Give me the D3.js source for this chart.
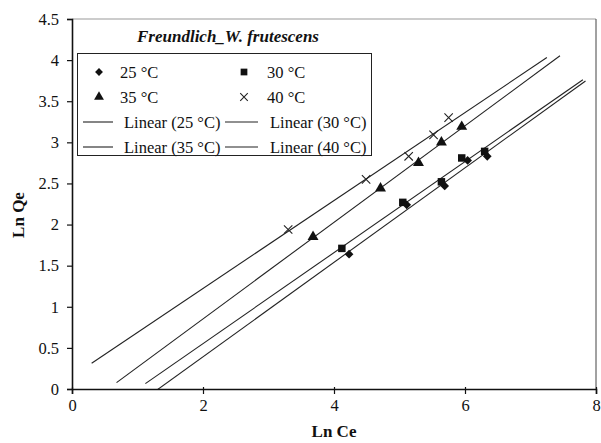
<!DOCTYPE html>
<html>
<head>
<meta charset="utf-8">
<script src="https://cdn.jsdelivr.net/npm/d3@7"></script>
<style>
  html, body { margin: 0; padding: 0; background: #fff; }
  svg { display: block; }
  text { font-family: "Liberation Serif", "Times New Roman", serif; fill: #111; }
</style>
</head>
<body>
<svg id="chart" width="601" height="443"></svg>
<script>
// Freundlich isotherm data: ln Ce vs ln Qe at four temperatures
const seriesNames = ["25 °C", "30 °C", "35 °C", "40 °C"];
const lnCe25 = [4.23, 5.11, 5.69, 6.04, 6.34];
const lnQe25 = [1.64, 2.24, 2.47, 2.78, 2.83];
const lnCe30 = [4.12, 5.05, 5.64, 5.95, 6.30];
const lnQe30 = [1.71, 2.27, 2.52, 2.81, 2.89];
const lnCe35 = [3.68, 4.71, 5.29, 5.64, 5.95];
const lnQe35 = [1.85, 2.44, 2.75, 3.00, 3.19];
const lnCe40 = [3.30, 4.49, 5.14, 5.52, 5.75];
const lnQe40 = [1.94, 2.55, 2.83, 3.09, 3.30];
const xTicks = [0, 2, 4, 6, 8];
const yTicks = [0, 0.5, 1, 1.5, 2, 2.5, 3, 3.5, 4, 4.5];
// trendline forecast extents (backward / forward, in ln Ce units)
const forecastBack = 3;
const forecastForward = 1.5;

const xs = [lnCe25, lnCe30, lnCe35, lnCe40];
const ys = [lnQe25, lnQe30, lnQe35, lnQe40];

const svg = d3.select("#chart");
const margin = { left: 72, right: 5, top: 19, bottom: 54 };
const W = 601, H = 443;
const x = d3.scaleLinear().domain([0, 8]).range([margin.left, W - margin.right]);
const y = d3.scaleLinear().domain([0, 4.5]).range([H - margin.bottom, margin.top]);
const FS = 16.5;

// plot frame (top/right)
svg.append("line").attr("x1", x(0)).attr("x2", x(8)).attr("y1", y(4.5)).attr("y2", y(4.5))
  .attr("stroke", "#999").attr("stroke-width", 1);
svg.append("line").attr("x1", x(8)).attr("x2", x(8)).attr("y1", y(4.5)).attr("y2", y(0))
  .attr("stroke", "#444").attr("stroke-width", 1);

// clip region for the trendlines
svg.append("clipPath").attr("id", "plotClip").append("rect")
  .attr("x", x(0)).attr("y", y(4.5)).attr("width", x(8) - x(0)).attr("height", y(0) - y(4.5));

// least-squares trendlines
function fit(xv, yv) {
  const mx = d3.mean(xv), my = d3.mean(yv);
  let sxy = 0, sxx = 0;
  xv.forEach((v, i) => { sxy += (v - mx) * (yv[i] - my); sxx += (v - mx) * (v - mx); });
  const b = sxy / sxx;
  return { b, a: my - b * mx };
}
const lineGen = d3.line().x(d => x(d[0])).y(d => y(d[1]));
const gLines = svg.append("g").attr("clip-path", "url(#plotClip)");
xs.forEach((xv, i) => {
  const f = fit(xv, ys[i]);
  const x0 = d3.min(xv) - forecastBack, x1 = d3.max(xv) + forecastForward;
  gLines.append("path")
    .attr("d", lineGen([[x0, f.a + f.b * x0], [x1, f.a + f.b * x1]]))
    .attr("fill", "none").attr("stroke", "#222").attr("stroke-width", 1.1);
});

// markers: diamond, square, triangle, x-cross
function drawMarker(g, i, cx, cy, scale) {
  const s = scale || 1;
  if (i === 3) {
    const r = 4.2 * s;
    g.append("path")
      .attr("d", `M${cx - r},${cy - r}L${cx + r},${cy + r}M${cx - r},${cy + r}L${cx + r},${cy - r}`)
      .attr("stroke", "#222").attr("stroke-width", 1.1).attr("fill", "none");
  } else if (i === 0) {
    g.append("path")
      .attr("d", d3.symbol().type(d3.symbolSquare).size(38 * s * s)())
      .attr("transform", `translate(${cx},${cy}) rotate(45)`)
      .attr("fill", "#111");
  } else if (i === 1) {
    g.append("path")
      .attr("d", d3.symbol().type(d3.symbolSquare).size(56 * s * s)())
      .attr("transform", `translate(${cx},${cy})`)
      .attr("fill", "#111");
  } else {
    g.append("path")
      .attr("d", d3.symbol().type(d3.symbolTriangle).size(52 * s * s)())
      .attr("transform", `translate(${cx},${cy})`)
      .attr("fill", "#111");
  }
}
const gPts = svg.append("g");
xs.forEach((xv, i) => {
  xv.forEach((v, j) => drawMarker(gPts, i, x(v), y(ys[i][j])));
});

// axes
const xAxis = svg.append("g").attr("transform", `translate(0,${y(0)})`)
  .call(d3.axisBottom(x).tickValues(xTicks).tickSize(5).tickPadding(5).tickFormat(d3.format("d")));
const yAxis = svg.append("g").attr("transform", `translate(${x(0)},0)`)
  .call(d3.axisLeft(y).tickValues(yTicks).tickSize(5).tickPadding(8).tickFormat(d => String(d)));
[xAxis, yAxis].forEach(a => {
  a.select(".domain").attr("stroke", "#111").attr("stroke-width", 1.6);
  a.selectAll(".tick line").attr("stroke", "#111").attr("stroke-width", 1.2);
  a.selectAll("text").attr("font-family", "Liberation Serif").attr("font-size", FS).attr("fill", "#222");
});
xAxis.selectAll(".tick line").attr("y1", -2);

// axis titles
svg.append("text").attr("x", (x(0) + x(8)) / 2).attr("y", 437).attr("text-anchor", "middle")
  .attr("font-weight", "bold").attr("font-size", 17).text("Ln Ce");
svg.append("text").attr("transform", `translate(24,215) rotate(-90)`)
  .attr("text-anchor", "middle").attr("font-weight", "bold").attr("font-size", 17).text("Ln Qe");

// chart title
svg.append("text").attr("x", 228).attr("y", 42).attr("text-anchor", "middle")
  .attr("font-weight", "bold").attr("font-style", "italic").attr("font-size", 17)
  .text("Freundlich_W. frutescens");

// legend
const lg = svg.append("g");
lg.append("rect").attr("x", 77.5).attr("y", 53.5).attr("width", 294).attr("height", 102)
  .attr("fill", "#fff").attr("stroke", "#222").attr("stroke-width", 1);
const rowY = [72, 97, 122, 147];
const colMarkX = [99, 244], colTextX = [120, 267];
seriesNames.forEach((name, i) => {
  const r = Math.floor(i / 2), c = i % 2;
  drawMarker(lg, i, colMarkX[c], rowY[r], 0.9);
  lg.append("text").attr("x", colTextX[c]).attr("y", rowY[r] + 5.5).attr("font-size", FS).text(name);
});
const lineX = [[83, 113], [225, 258]], lineTextX = [124, 270];
seriesNames.forEach((name, i) => {
  const r = 2 + Math.floor(i / 2), c = i % 2;
  lg.append("line").attr("x1", lineX[c][0]).attr("x2", lineX[c][1])
    .attr("y1", rowY[r]).attr("y2", rowY[r]).attr("stroke", "#222").attr("stroke-width", 1.1);
  lg.append("text").attr("x", lineTextX[c]).attr("y", rowY[r] + 5.5).attr("font-size", FS)
    .text(`Linear (${name})`);
});
</script>
</body>
</html>
